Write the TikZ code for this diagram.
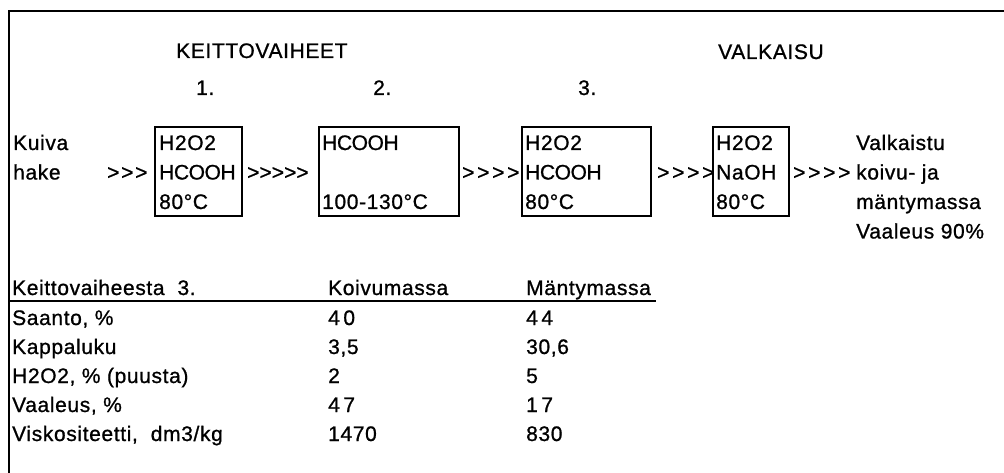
\documentclass[tikz,border=0pt]{standalone}
\usepackage{fontspec}
\setmainfont{Liberation Sans}[LetterSpace=3,FakeBold=0.9]
\begin{document}
\begin{tikzpicture}[x=1pt,y=-1pt,
  txt/.style={anchor=base west, inner sep=0pt, font=\fontsize{21}{29.5}\selectfont},
  stagebox/.style={draw, line width=1.7pt, inner sep=0pt, anchor=north west},
  chev/.style={txt},
  frame/.style={line width=2pt}]
\useasboundingbox (0,0) rectangle (1004,473);
\newcommand{\ch}[1]{\makebox[#1pt][l]{>}}
% frame
\coordinate (fl) at (9,473);
\coordinate (ftl) at (9,11);
\coordinate (ftr) at (1004,11);
\draw[frame] (fl) -- (ftl) -- (ftr);
% headings
\node[txt] (hk) at (176,58) {KEITTOVAIHEET};
\node[txt] (hv) at (718,59) {VALKAISU};
\node[txt] (n1) at (196,95) {1.};
\node[txt] (n2) at (373,95) {2.};
\node[txt] (n3) at (578,95) {3.};
% input
\node[txt] (in1) at (13,150) {Kuiva};
\node[txt] (in2) at (13,179.5) {hake};
% boxes
\node[stagebox, minimum width=87pt, minimum height=89pt] (b1) at (154,126) {};
\node[stagebox, minimum width=140pt, minimum height=89pt] (b2) at (318,126) {};
\node[stagebox, minimum width=129pt, minimum height=89pt] (b3) at (521,126) {};
\node[stagebox, minimum width=76pt, minimum height=89pt] (b4) at (712,126) {};
% box texts
\node[txt] (b1a) at (159,150) {H2O2};
\node[txt] (b1b) at (159,179.5) {\addfontfeature{LetterSpace=-2}HCOOH};
\node[txt] (b1c) at (159,209) {80°C};
\node[txt] (b2a) at (322,150) {\addfontfeature{LetterSpace=-2}HCOOH};
\node[txt] (b2c) at (322,209) {100-130°C};
\node[txt] (b3a) at (525,150) {H2O2};
\node[txt] (b3b) at (525,179.5) {\addfontfeature{LetterSpace=-2}HCOOH};
\node[txt] (b3c) at (525,209) {80°C};
\node[txt] (b4a) at (716,150) {H2O2};
\node[txt] (b4b) at (716,179.5) {NaOH};
\node[txt] (b4c) at (716,209) {80°C};
% chevrons
\node[chev] (c0) at (107,179.5) {\ch{14}\ch{14}>};
\node[chev] (c1) at (247,179.5) {\ch{12.3}\ch{12.3}\ch{12.3}\ch{12.3}>};
\node[chev] (c2) at (462,179.5) {\ch{15}\ch{15}\ch{15}>};
\node[chev] (c3) at (657,179.5) {\ch{15}\ch{15}\ch{15}>};
\node[chev] (c4) at (793,179.5) {\ch{15}\ch{15}\ch{15}>};
% output
\node[txt] (o1) at (856,150) {Valkaistu};
\node[txt] (o2) at (856,179.5) {koivu- ja};
\node[txt] (o3) at (856,209) {mäntymassa};
\node[txt] (o4) at (856,238.5) {Vaaleus 90\%};
% table
\node[txt] (th1) at (12,295) {Keittovaiheesta\ \ 3.};
\node[txt] (th2) at (328,295) {Koivumassa};
\node[txt] (th3) at (526,295) {Mäntymassa};
\coordinate (ul1) at (9,301);
\coordinate (ul2) at (656,301);
\draw[line width=1.7pt] (ul1) -- (ul2);
\node[txt] (r1a) at (12,325) {Saanto, \%};
\node[txt] (r1b) at (328,325) {4\,0};
\node[txt] (r1c) at (526,325) {4\,4};
\node[txt] (r2a) at (12,354) {Kappaluku};
\node[txt] (r2b) at (328,354) {3,5};
\node[txt] (r2c) at (526,354) {30,6};
\node[txt] (r3a) at (12,383) {H2O2, \% (puusta)};
\node[txt] (r3b) at (328,383) {2};
\node[txt] (r3c) at (526,383) {5};
\node[txt] (r4a) at (12,412) {Vaaleus, \%};
\node[txt] (r4b) at (328,412) {4\,7};
\node[txt] (r4c) at (526,412) {1\,7};
\node[txt] (r5a) at (12,441) {Viskositeetti,\ \ dm3/kg};
\node[txt] (r5b) at (328,441) {1470};
\node[txt] (r5c) at (526,441) {830};
\end{tikzpicture}
\end{document}
